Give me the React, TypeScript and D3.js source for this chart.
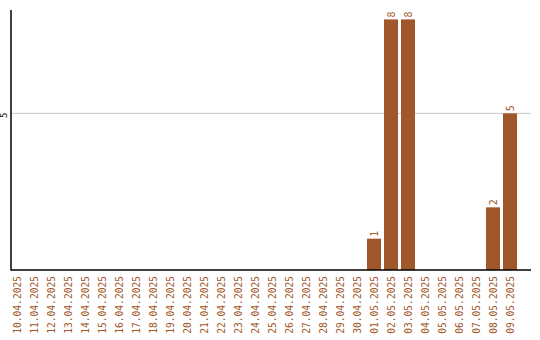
import React from "react";
import * as d3 from "d3";

const dates = [
  "10.04.2025", "11.04.2025", "12.04.2025", "13.04.2025", "14.04.2025",
  "15.04.2025", "16.04.2025", "17.04.2025", "18.04.2025", "19.04.2025",
  "20.04.2025", "21.04.2025", "22.04.2025", "23.04.2025", "24.04.2025",
  "25.04.2025", "26.04.2025", "27.04.2025", "28.04.2025", "29.04.2025",
  "30.04.2025", "01.05.2025", "02.05.2025", "03.05.2025", "04.05.2025",
  "05.05.2025", "06.05.2025", "07.05.2025", "08.05.2025", "09.05.2025",
];
const counts = [
  0, 0, 0, 0, 0, 0, 0, 0, 0, 0,
  0, 0, 0, 0, 0, 0, 0, 0, 0, 0,
  0, 1, 8, 8, 0, 0, 0, 0, 2, 5,
];
const yTicks = [5];

const W = 540;
const H = 340;
const COLOR = "#a0582a";
const FONT = "'DejaVu Sans Mono', monospace";

export default function App() {
  const x = d3
    .scaleBand<string>()
    .domain(dates)
    .range([8.5, 518.5])
    .paddingInner(3 / 17)
    .paddingOuter(3 / 34);
  const y = d3.scaleLinear().domain([0, 8.3]).range([270, 10]);
  const axisX = 11;
  const rightX = 531;

  return (
    <svg
      width={W}
      height={H}
      style={{ position: "absolute", left: 0, top: 0, background: "#fff" }}
    >
      {yTicks.map((t) => (
        <g key={t}>
          <line x1={axisX} x2={rightX} y1={y(t)} y2={y(t)} stroke="#c8c8c8" strokeWidth={1} />
          <text
            transform={`translate(4,${y(t) + 2}) rotate(-90)`}
            textAnchor="middle"
            dominantBaseline="central"
            fontFamily={FONT}
            fontSize={9}
            fill="#000"
          >
            {t}
          </text>
        </g>
      ))}
      {dates.map((d, i) => {
        const v = counts[i];
        if (!v) return null;
        const cx = (x(d) as number) + x.bandwidth() / 2;
        return (
          <g key={d}>
            <rect
              x={x(d)}
              y={y(v)}
              width={x.bandwidth()}
              height={y(0) - y(v)}
              fill={COLOR}
            />
            <text
              transform={`translate(${cx},${y(v) - 2}) rotate(-90)`}
              textAnchor="start"
              dominantBaseline="central"
              fontFamily={FONT}
              fontSize={10}
              fill={COLOR}
            >
              {v}
            </text>
          </g>
        );
      })}
      <line x1={axisX} x2={axisX} y1={10} y2={270.5} stroke="#000" strokeWidth={1.5} />
      <line x1={axisX} x2={rightX} y1={270} y2={270} stroke="#000" strokeWidth={1.5} />
      {dates.map((d) => {
        const cx = (x(d) as number) + x.bandwidth() / 2;
        return (
          <text
            key={d}
            transform={`translate(${cx},276) rotate(-90)`}
            textAnchor="end"
            dominantBaseline="central"
            fontFamily={FONT}
            fontSize={9.6}
            fill={COLOR}
          >
            {d}
          </text>
        );
      })}
    </svg>
  );
}
